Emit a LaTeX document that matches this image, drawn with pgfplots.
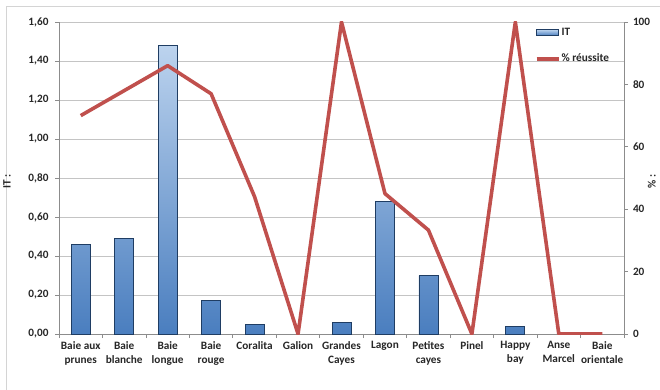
\documentclass[border=0pt]{standalone}
\usepackage{pgfplots}
\pgfplotsset{compat=1.18}
\usepackage{fontspec}
\setmainfont{Carlito}
\definecolor{gridc}{HTML}{C4C4C4}
\definecolor{axc}{HTML}{8C8C8C}
\definecolor{barTop}{HTML}{BCD3EE}
\definecolor{barBot}{HTML}{4A7EBF}
\definecolor{barEdge}{HTML}{1F3D63}
\definecolor{lineRed}{HTML}{C0504D}
\definecolor{frameC}{HTML}{D4D4D4}
\newcommand\tfont{\bfseries\fontsize{11.3}{13.8}\selectfont}

\pgfplotstableread{
x it
0 0.46
1 0.49
2 1.48
3 0.17
4 0.05
6 0.06
7 0.68
8 0.30
10 0.04
}\itdata

\pgfplotstableread{
x pct
0 70
1 78
2 86
3 77
4 44
5 0
6 100
7 45
8 33.3
9 0
10 100
11 0
12 0
}\pctdata

\begin{document}
\begin{tikzpicture}[x=1bp,y=1bp]
\useasboundingbox (0,0) rectangle (660,389);
\draw[frameC, line width=1bp] (6,-20) rectangle (700,382);
\begin{axis}[
  at={(59bp,55bp)}, anchor=south west,
  scale only axis, width=565bp, height=312bp,
  xmin=-0.5, xmax=12.5, ymin=0, ymax=1.6,
  axis lines*=left,
  axis line style={axc, line width=0.8bp, -},
  xtick={0,1,2,3,4,5,6,7,8,9,10,11,12},
  xticklabels={{Baie aux\\prunes},{Baie\\blanche},{Baie\\longue},{Baie\\rouge},Coralita,Galion,{Grandes\\Cayes},Lagon,{Petites\\cayes},Pinel,{Happy\\bay},{Anse\\Marcel},{Baie\\orientale}},
  xticklabel style={align=center, font=\tfont, text=black!85},
  every major x tick/.append style={draw=none},
  minor xtick={-0.5,0.5,1.5,2.5,3.5,4.5,5.5,6.5,7.5,8.5,9.5,10.5,11.5,12.5},
  every minor x tick/.append style={axc, line width=0.8bp},
  minor tick length=4bp,
  major tick length=4bp,
  tick align=outside,
  ytick={0,0.2,0.4,0.6,0.8,1.0,1.2,1.4,1.6},
  yticklabels={{0,00},{0,20},{0,40},{0,60},{0,80},{1,00},{1,20},{1,40},{1,60}},
  yticklabel style={font=\tfont, text=black!85, xshift=-3bp},
  every major y tick/.append style={axc, line width=0.8bp},
  ymajorgrids, grid style={gridc, line width=0.9bp},
  ylabel={IT :},
  ylabel style={font=\tfont, text=black!85, at={(axis description cs:-0.092,0.49)}, anchor=center},
]
\addplot[ybar, bar width=19bp, draw=barEdge, line width=0.8bp, top color=barTop, bottom color=barBot]
  table[x=x, y=it]{\itdata};
\end{axis}
\begin{axis}[
  at={(59bp,55bp)}, anchor=south west,
  scale only axis, width=565bp, height=312bp,
  xmin=-0.5, xmax=12.5, ymin=0, ymax=100,
  axis y line*=right, axis x line=none,
  axis line style={axc, line width=0.8bp, -},
  ytick={0,20,40,60,80,100},
  yticklabels={0,20,40,60,80,100},
  yticklabel style={font=\tfont, text=black!85, xshift=1.5bp},
  every major y tick/.append style={axc, line width=0.8bp},
  major tick length=4bp,
  tick align=outside,
  ylabel={\% :},
  ylabel style={font=\tfont, text=black!85, at={(axis description cs:1.049,0.49)}, anchor=center},
  legend style={draw=none, fill=none, at={(0.842,0.987)}, anchor=north west,
    font=\tfont, text=black!85, row sep=13bp, inner sep=0pt,
    nodes={inner xsep=1bp}},
  legend cell align=left,
]
\addlegendimage{legend image code/.code={\draw[draw=barEdge, line width=0.7bp, top color=barTop, bottom color=barBot] (0bp,-3bp) rectangle (22bp,3bp);}}
\addlegendentry{IT}
\addplot[lineRed, line width=3.6bp, line join=round,
  legend image code/.code={\draw[lineRed, line width=3.6bp] (0bp,0bp) -- (22bp,0bp);}]
  table[x=x, y=pct]{\pctdata};
\addlegendentry{\% réussite}
\end{axis}
\end{tikzpicture}
\end{document}
